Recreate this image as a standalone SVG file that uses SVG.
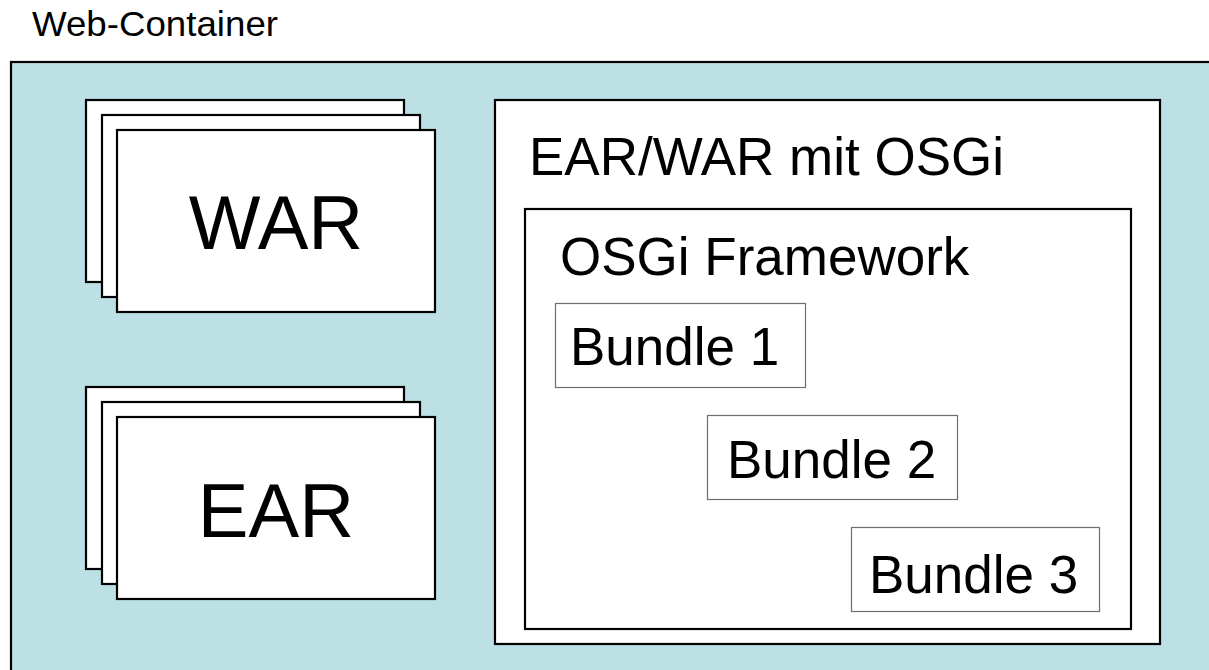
<svg xmlns="http://www.w3.org/2000/svg" width="1209" height="670" viewBox="0 0 1209 670">
  <style>
    .txt { font-family: "Liberation Sans", Arial, sans-serif; fill: #000; }
    .heavy { fill: #fff; stroke: #000; stroke-width: 2.2; }
    .thin { fill: #fff; stroke: #6e6e6e; stroke-width: 1.2; }
    .big { font-size: 76px; text-anchor: middle; }
    .mid { font-size: 53px; }
  </style>
  <rect width="1209" height="670" fill="#fff"/>

  <!-- Web container (runs off the right and bottom edge) -->
  <g id="web-container">
    <text class="txt" x="32" y="36" font-size="35" textLength="246" lengthAdjust="spacingAndGlyphs">Web-Container</text>
    <rect x="11" y="62" width="1230" height="640" fill="#bce0e3" stroke="#000" stroke-width="2.2"/>
  </g>

  <!-- Stack of WAR archives -->
  <g id="war-stack">
    <rect class="heavy" x="86" y="100" width="318" height="182"/>
    <rect class="heavy" x="102" y="115" width="318" height="182"/>
    <rect class="heavy" x="117" y="130" width="318" height="182"/>
    <text class="txt big" x="276" y="249">WAR</text>
  </g>

  <!-- Stack of EAR archives -->
  <g id="ear-stack">
    <rect class="heavy" x="86" y="387" width="318" height="182"/>
    <rect class="heavy" x="102" y="402" width="318" height="182"/>
    <rect class="heavy" x="117" y="417" width="318" height="182"/>
    <text class="txt big" x="276" y="537">EAR</text>
  </g>

  <!-- EAR/WAR packaging an embedded OSGi framework -->
  <g id="ear-war-osgi">
    <rect class="heavy" x="495" y="100" width="665" height="544"/>
    <text class="txt mid" x="529" y="175">EAR/WAR mit OSGi</text>
  </g>

  <g id="osgi-framework">
    <rect class="heavy" x="525" y="209" width="606" height="420"/>
    <text class="txt mid" x="560" y="275">OSGi Framework</text>
  </g>

  <g id="bundle-1">
    <rect class="thin" x="555.5" y="303.5" width="250" height="84"/>
    <text class="txt mid" x="570" y="365">Bundle 1</text>
  </g>

  <g id="bundle-2">
    <rect class="thin" x="707.5" y="415.5" width="250" height="84"/>
    <text class="txt mid" x="727" y="478">Bundle 2</text>
  </g>

  <g id="bundle-3">
    <rect class="thin" x="851.5" y="527.5" width="248" height="84"/>
    <text class="txt mid" x="869" y="593">Bundle 3</text>
  </g>
</svg>
